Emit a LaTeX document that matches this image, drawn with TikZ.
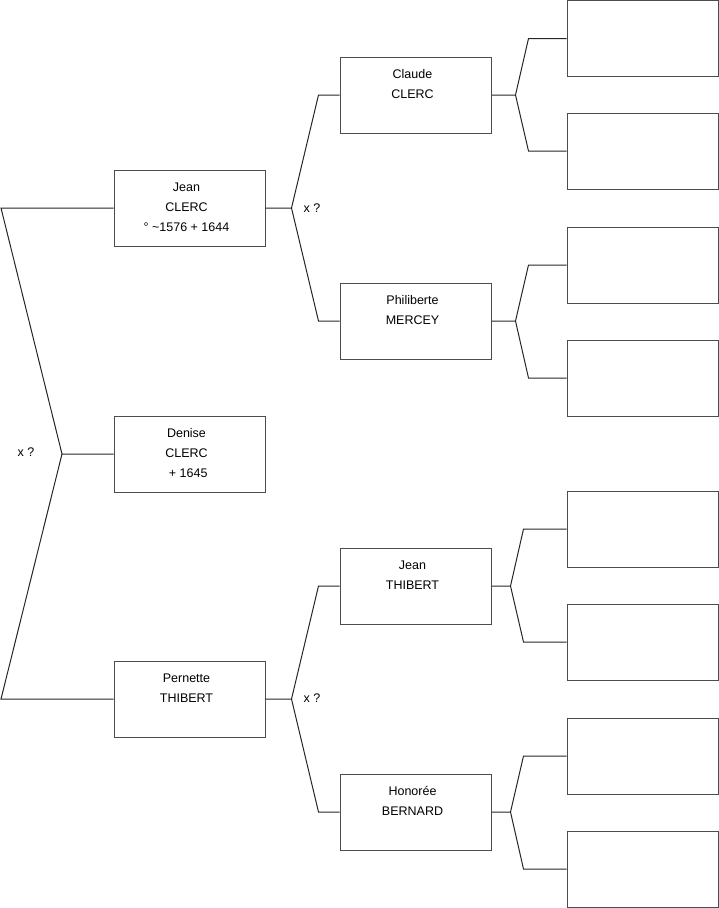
\documentclass[tikz,border=0pt]{standalone}
\usepackage{fontspec}
\setmainfont{Liberation Sans}
\usetikzlibrary{calc}
\begin{document}
\begin{tikzpicture}[x=1pt,y=-1pt,
  box/.style={draw=black!70,line width=1pt,rectangle,minimum width=151pt,minimum height=76pt,inner sep=0pt,fill=white},
  txt/.style={anchor=north,align=center,inner sep=0pt,font=\fontsize{12.5}{20}\selectfont},
  lbl/.style={inner sep=0pt,font=\fontsize{12.5}{14}\selectfont},
  con/.style={draw=black!85,line width=1pt}]
\useasboundingbox (0,0) rectangle (719,908);
% generation 1
\node[box] (b1) at (189.5,208) {};
\node[box] (b0) at (189.5,454) {};
\node[box] (b2) at (189.5,699) {};
% generation 2
\node[box] (b3) at (415.5,95) {};
\node[box] (b4) at (415.5,321) {};
\node[box] (b5) at (415.5,586) {};
\node[box] (b6) at (415.5,812) {};
% generation 3
\node[box] (r1) at (642.5,38.5) {};
\node[box] (r2) at (642.5,151) {};
\node[box] (r3) at (642.5,265) {};
\node[box] (r4) at (642.5,378) {};
\node[box] (r5) at (642.5,529) {};
\node[box] (r6) at (642.5,642) {};
\node[box] (r7) at (642.5,756) {};
\node[box] (r8) at (642.5,869) {};
% texts
\newcommand{\fl}{\rule{0pt}{10pt}}
\node[txt] (t1) at ([xshift=-3pt,yshift=-12pt]b1.north) {\fl Jean\\CLERC\\° \textasciitilde1576 + 1644};
\node[txt] (t0) at ([xshift=-3pt,yshift=-12pt]b0.north) {\fl Denise\\CLERC\\\ + 1645};
\node[txt] (t2) at ([xshift=-3pt,yshift=-12pt]b2.north) {\fl Pernette\\THIBERT};
\node[txt] (t3) at ([xshift=-3pt,yshift=-12pt]b3.north) {\fl Claude\\CLERC};
\node[txt] (t4) at ([xshift=-3pt,yshift=-12pt]b4.north) {\fl Philiberte\\MERCEY};
\node[txt] (t5) at ([xshift=-3pt,yshift=-12pt]b5.north) {\fl Jean\\THIBERT};
\node[txt] (t6) at ([xshift=-3pt,yshift=-12pt]b6.north) {\fl Honorée\\BERNARD};
% left fork
\coordinate (lv) at (62,454);
\coordinate (lt) at (1,208);
\coordinate (lb) at (1,699);
\draw[con] (b0.west) -- (lv) -- (lt) -- (b1.west);
\draw[con] (lv) -- (lb) -- (b2.west);
\node[lbl] (x0) at (26,452) {x ?};
% fork from b1
\coordinate (v1) at ([xshift=26pt]b1.east);
\draw[con] (b1.east) -- (v1) -- ([xshift=-21pt]b3.west) -- (b3.west);
\draw[con] (v1) -- ([xshift=-21pt]b4.west) -- (b4.west);
\node[lbl] (x1) at (312,208) {x ?};
% fork from b2
\coordinate (v2) at ([xshift=26pt]b2.east);
\draw[con] (b2.east) -- (v2) -- ([xshift=-21pt]b5.west) -- (b5.west);
\draw[con] (v2) -- ([xshift=-21pt]b6.west) -- (b6.west);
\node[lbl] (x2) at (312,698) {x ?};
% forks from generation 2
\coordinate (v3) at ([xshift=24pt]b3.east);
\draw[con] (b3.east) -- (v3) -- ([xshift=-38pt]r1.west) -- (r1.west);
\draw[con] (v3) -- ([xshift=-38pt]r2.west) -- (r2.west);
\coordinate (v4) at ([xshift=24pt]b4.east);
\draw[con] (b4.east) -- (v4) -- ([xshift=-38pt]r3.west) -- (r3.west);
\draw[con] (v4) -- ([xshift=-38pt]r4.west) -- (r4.west);
\coordinate (v5) at ([xshift=19pt]b5.east);
\draw[con] (b5.east) -- (v5) -- ([xshift=-43pt]r5.west) -- (r5.west);
\draw[con] (v5) -- ([xshift=-43pt]r6.west) -- (r6.west);
\coordinate (v6) at ([xshift=19pt]b6.east);
\draw[con] (b6.east) -- (v6) -- ([xshift=-43pt]r7.west) -- (r7.west);
\draw[con] (v6) -- ([xshift=-43pt]r8.west) -- (r8.west);
\end{tikzpicture}
\end{document}
